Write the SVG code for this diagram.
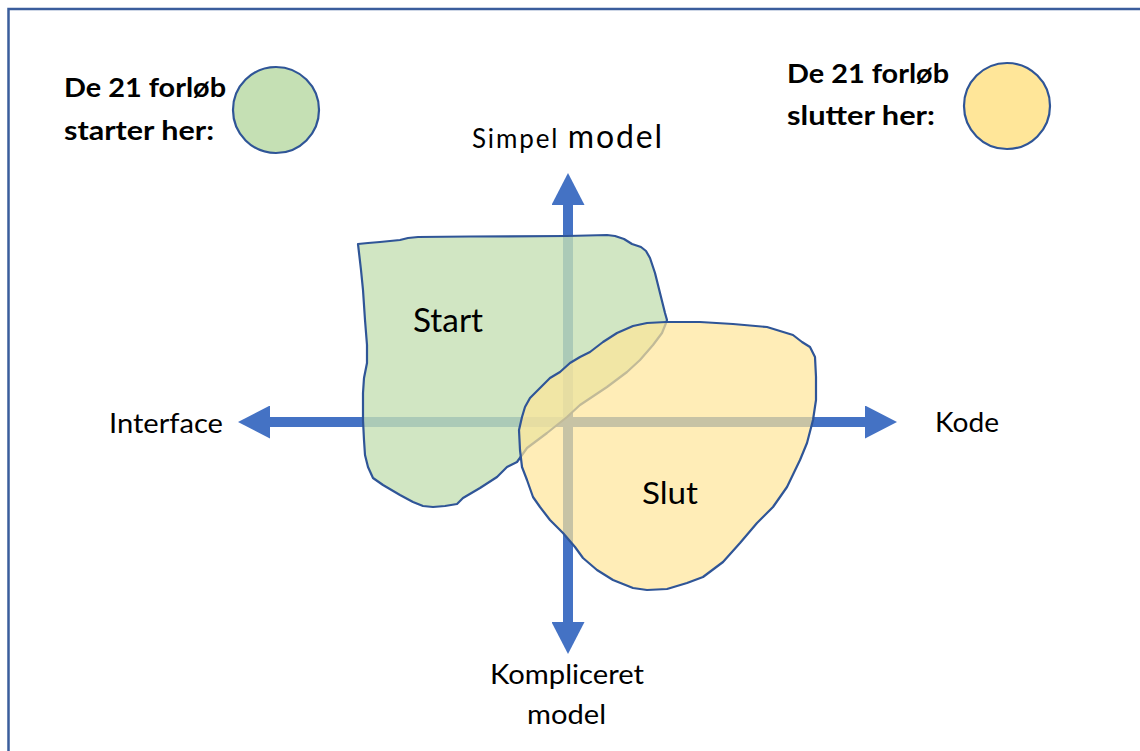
<svg xmlns="http://www.w3.org/2000/svg" width="1140" height="751" viewBox="0 0 1140 751">
  <defs>
    <style>
      .frame { fill: none; stroke: #3a5d9c; stroke-width: 2.5; }
      .axis { stroke: #4472C4; stroke-width: 10; fill: none; }
      .outline { stroke: #2F5597; stroke-width: 2.2; stroke-linejoin: round; }
      .green { fill: #C5E0B4; }
      .yellow { fill: #FFE699; }
      .blob-green { fill: rgba(197,224,180,0.8); }
      .blob-yellow { fill: rgba(255,230,153,0.7); }
      .lbl { font-family: Lato, "Open Sans", "Liberation Sans", sans-serif; fill: #000; }
      .legend { font-family: Lato, "Open Sans", "Liberation Sans", sans-serif; font-weight: bold; font-size: 26px; fill: #000; }
    </style>
    <marker id="head" markerUnits="userSpaceOnUse" markerWidth="32" markerHeight="33" refX="0" refY="16.5" orient="auto-start-reverse">
      <path d="M0,0 L32,16.5 L0,33 Z" fill="#4472C4"/>
    </marker>
  </defs>

  <rect width="1140" height="751" fill="#fff"/>

  <!-- outer frame, open to the right and bottom -->
  <path class="frame" d="M8.5,751 V9 H1140"/>

  <!-- axes -->
  <g id="connectors">
    <line class="axis" x1="270" y1="422" x2="865" y2="422" marker-start="url(#head)" marker-end="url(#head)"/>
    <line class="axis" x1="568" y1="205" x2="568" y2="622" marker-start="url(#head)" marker-end="url(#head)"/>
  </g>

  <!-- start region -->
  <g id="start">
    <path class="blob-green outline" d="M358,244 L368,243 L380,242 L400,240 L408,238 L418,237 L470,236.5 L567,236 L607,235 L615,236 L624,239 L632,244 L641,247 L646,251 L650,258 L655,273 L660,293 L665,313 L667,320 L666,323 L662,333 L653,345 L640,360 L627,372 L607,387 L580,405 L567,417 L547,433 L527,448 L522,455 L517,462 L507,467 L497,477 L480,488 L463,498 L457,504 L445,506 L433,507 L423,506 L413,502 L400,495 L383,485 L373,478 L368,467 L365,455 L364,440 L363,420 L363,393 L364,378 L367,363 L367,345 L365,320 L363,290 L361,270 Z"/>
    <text class="lbl" x="413" y="332" font-size="32" textLength="70" lengthAdjust="spacingAndGlyphs">Start</text>
  </g>

  <!-- end region -->
  <g id="slut">
    <path class="blob-yellow outline" d="M666,322 L647,323 L633,326 L617,333 L603,342 L590,352 L580,357 L570,363 L560,372 L550,378 L540,388 L530,398 L525,407 L522,417 L519,430 L520,450 L522,467 L527,480 L533,497 L540,507 L550,520 L563,533 L575,547 L583,558 L597,570 L613,580 L633,588 L647,590 L667,589 L687,583 L703,577 L723,562 L740,543 L757,523 L773,507 L787,487 L800,460 L807,443 L813,420 L816,400 L816,377 L815,357 L810,347 L802,342 L793,335 L780,331 L767,327 L733,324 L700,322 Z"/>
    <text class="lbl" x="642" y="504" font-size="31" textLength="56" lengthAdjust="spacingAndGlyphs">Slut</text>
  </g>

  <!-- axis labels -->
  <g id="label-top">
    <text class="lbl" x="472" y="148" textLength="190" lengthAdjust="spacing"><tspan font-size="26">Simpel </tspan><tspan font-size="32">model</tspan></text>
  </g>
  <g id="label-left">
    <text class="lbl" x="109" y="433" font-size="27" textLength="114" lengthAdjust="spacingAndGlyphs">Interface</text>
  </g>
  <g id="label-right">
    <text class="lbl" x="935" y="432" font-size="27" textLength="64" lengthAdjust="spacingAndGlyphs">Kode</text>
  </g>
  <g id="label-bottom">
    <text class="lbl" x="490" y="684" font-size="27" textLength="154" lengthAdjust="spacingAndGlyphs">Kompliceret</text>
    <text class="lbl" x="527" y="724" font-size="27" textLength="79" lengthAdjust="spacingAndGlyphs">model</text>
  </g>

  <!-- legends -->
  <g id="legend-start">
    <text class="legend" x="64" y="97" textLength="162" lengthAdjust="spacingAndGlyphs">De 21 forløb</text>
    <text class="legend" x="64" y="140" textLength="150" lengthAdjust="spacingAndGlyphs">starter her:</text>
    <circle class="green outline" cx="276" cy="110" r="43"/>
  </g>
  <g id="legend-slut">
    <text class="legend" x="787" y="83" textLength="162" lengthAdjust="spacingAndGlyphs">De 21 forløb</text>
    <text class="legend" x="787" y="125" textLength="148" lengthAdjust="spacingAndGlyphs">slutter her:</text>
    <circle class="yellow outline" cx="1007" cy="106" r="43"/>
  </g>
</svg>
